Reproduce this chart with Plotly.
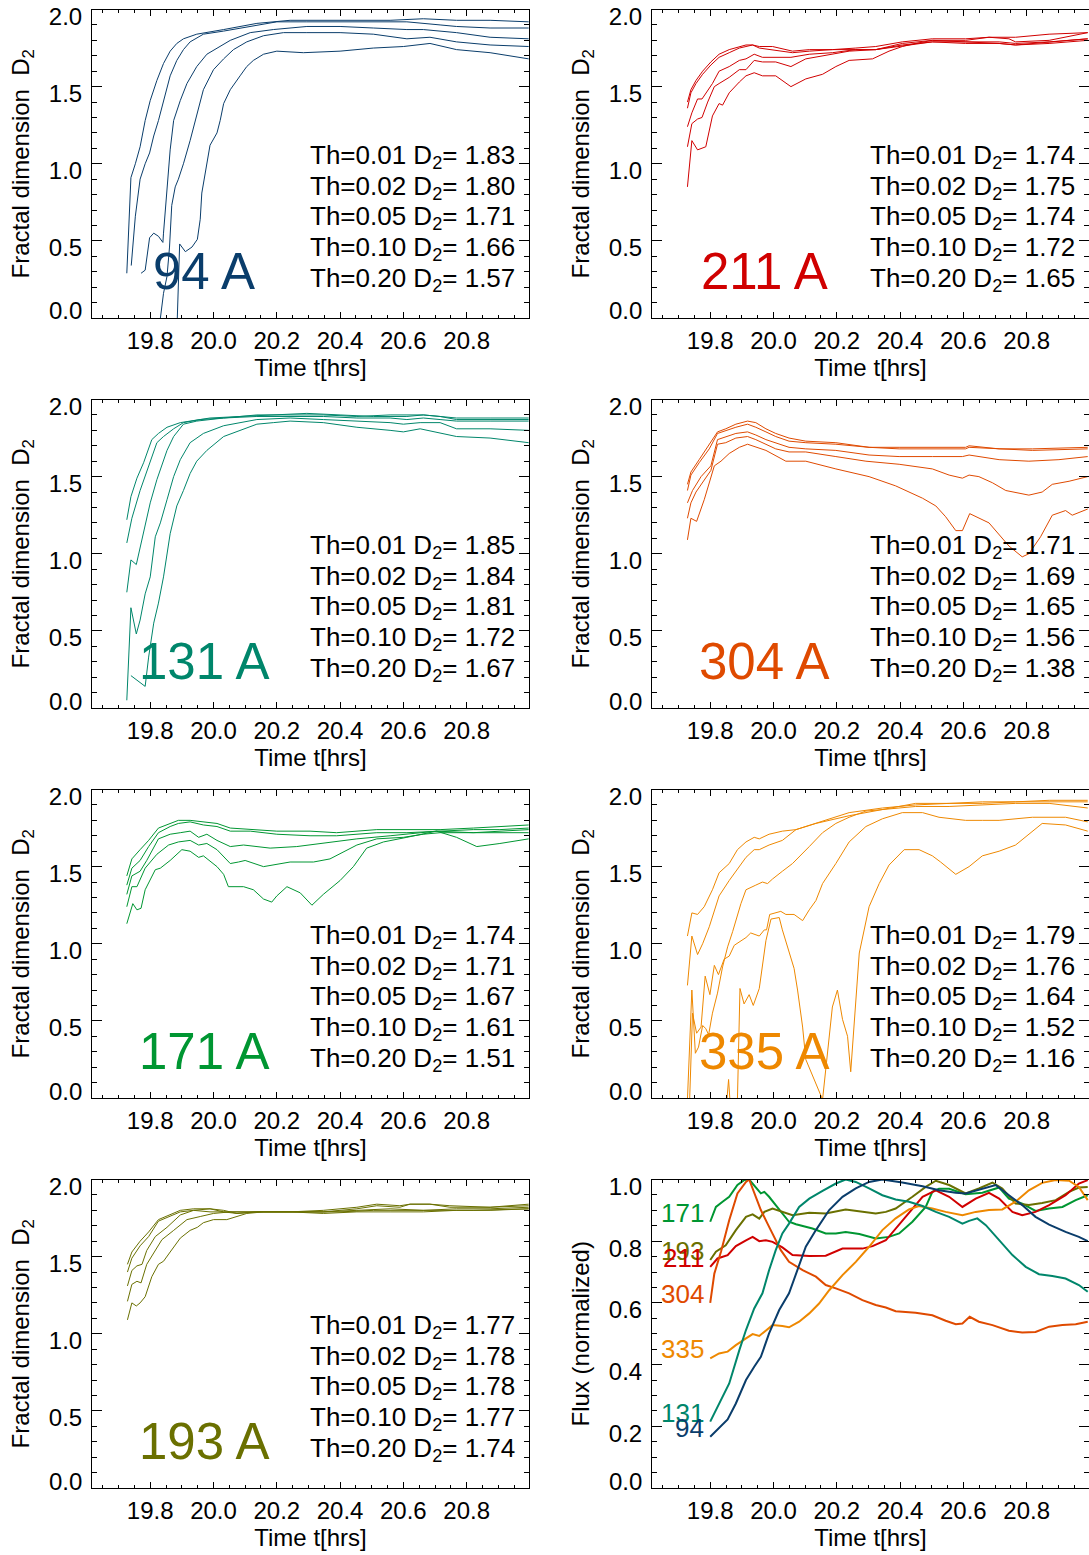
import plotly.graph_objects as go

FONT = "Liberation Sans, Arial, Helvetica, sans-serif"
W, H = 1089, 1555

THRESHOLDS = ["0.01", "0.02", "0.05", "0.10", "0.20"]

# Fitted fractal dimension D2 for each threshold, per channel
D2_FIT = {
    "94":  [1.83, 1.80, 1.71, 1.66, 1.57],
    "211": [1.74, 1.75, 1.74, 1.72, 1.65],
    "131": [1.85, 1.84, 1.81, 1.72, 1.67],
    "304": [1.71, 1.69, 1.65, 1.56, 1.38],
    "171": [1.74, 1.71, 1.67, 1.61, 1.51],
    "335": [1.79, 1.76, 1.64, 1.52, 1.16],
    "193": [1.77, 1.78, 1.78, 1.77, 1.74],
}

COLORS = {
    "94": "#0a3d6b", "211": "#d00000", "131": "#00866b", "304": "#df4a00",
    "171": "#009632", "335": "#ee8800", "193": "#6a7000",
}

# D2(t) time series, threshold -> (time [hrs], D2)
D2_94 = {
    "0.01": ([19.726, 19.739, 19.753, 19.768, 19.784, 19.800, 19.821, 19.842, 19.863, 19.884, 19.905, 19.947, 20.032, 20.137, 20.242, 20.347, 20.453, 20.558, 20.663, 20.768, 20.874, 20.996],
             [0.29, 0.91, 1.00, 1.11, 1.28, 1.41, 1.54, 1.65, 1.73, 1.78, 1.81, 1.84, 1.87, 1.91, 1.93, 1.93, 1.93, 1.93, 1.94, 1.93, 1.93, 1.92]),
    "0.02": ([19.740, 19.753, 19.768, 19.784, 19.798, 19.811, 19.826, 19.842, 19.863, 19.884, 19.905, 19.926, 19.968, 20.032, 20.116, 20.200, 20.295, 20.400, 20.505, 20.611, 20.716, 20.768, 20.874, 20.996],
             [0.34, 0.66, 0.90, 1.00, 1.07, 1.18, 1.28, 1.41, 1.57, 1.67, 1.74, 1.79, 1.84, 1.86, 1.89, 1.92, 1.92, 1.92, 1.92, 1.92, 1.90, 1.89, 1.88, 1.88]),
    "0.05": ([19.771, 19.784, 19.798, 19.811, 19.826, 19.840, 19.842, 19.853, 19.863, 19.874, 19.895, 19.916, 19.947, 19.979, 20.011, 20.053, 20.116, 20.189, 20.295, 20.400, 20.505, 20.611, 20.663, 20.768, 20.874, 20.996],
             [0.29, 0.31, 0.52, 0.55, 0.53, 0.49, 0.55, 0.81, 1.09, 1.28, 1.41, 1.52, 1.63, 1.71, 1.75, 1.80, 1.85, 1.87, 1.89, 1.89, 1.88, 1.87, 1.87, 1.85, 1.82, 1.81]),
    "0.10": ([19.826, 19.842, 19.853, 19.861, 19.868, 19.879, 19.889, 19.905, 19.926, 19.942, 19.968, 20.000, 20.032, 20.063, 20.105, 20.158, 20.221, 20.295, 20.400, 20.505, 20.611, 20.684, 20.768, 20.874, 20.996],
             [-0.10, 0.16, 0.27, 0.46, 0.73, 0.85, 0.90, 1.00, 1.15, 1.28, 1.48, 1.61, 1.68, 1.74, 1.79, 1.83, 1.85, 1.85, 1.85, 1.84, 1.81, 1.82, 1.79, 1.77, 1.76]),
    "0.20": ([19.884, 19.893, 19.911, 19.932, 19.949, 19.958, 19.963, 19.974, 19.984, 19.989, 20.011, 20.021, 20.032, 20.053, 20.084, 20.105, 20.126, 20.158, 20.200, 20.284, 20.400, 20.505, 20.600, 20.684, 20.768, 20.874, 20.996],
             [-0.10, 0.48, 0.43, 0.46, 0.51, 0.64, 0.81, 0.94, 1.07, 1.12, 1.20, 1.28, 1.39, 1.48, 1.57, 1.63, 1.67, 1.71, 1.73, 1.72, 1.73, 1.75, 1.76, 1.78, 1.74, 1.72, 1.68]),
}

D2_211 = {
    "0.01": ([19.728, 19.739, 19.755, 19.776, 19.802, 19.828, 19.860, 19.892, 19.913, 19.934, 19.955, 19.997, 20.060, 20.113, 20.186, 20.260, 20.323, 20.407, 20.502, 20.607, 20.681, 20.765, 20.871, 20.993],
             [1.40, 1.48, 1.54, 1.60, 1.66, 1.71, 1.74, 1.76, 1.77, 1.77, 1.76, 1.76, 1.73, 1.74, 1.74, 1.75, 1.76, 1.79, 1.81, 1.81, 1.82, 1.82, 1.84, 1.85]),
    "0.02": ([19.728, 19.739, 19.755, 19.776, 19.802, 19.828, 19.860, 19.892, 19.913, 19.934, 19.955, 19.997, 20.060, 20.113, 20.186, 20.260, 20.323, 20.407, 20.502, 20.607, 20.681, 20.744, 20.765, 20.871, 20.993],
             [1.36, 1.46, 1.52, 1.58, 1.64, 1.69, 1.72, 1.75, 1.76, 1.77, 1.75, 1.74, 1.72, 1.73, 1.74, 1.74, 1.74, 1.78, 1.80, 1.80, 1.82, 1.81, 1.79, 1.80, 1.85]),
    "0.05": ([19.728, 19.742, 19.760, 19.774, 19.807, 19.828, 19.860, 19.892, 19.913, 19.939, 19.965, 20.007, 20.055, 20.113, 20.186, 20.260, 20.323, 20.407, 20.502, 20.607, 20.713, 20.765, 20.871, 20.993],
             [1.24, 1.33, 1.42, 1.42, 1.52, 1.60, 1.63, 1.67, 1.68, 1.71, 1.69, 1.69, 1.69, 1.71, 1.72, 1.74, 1.74, 1.77, 1.79, 1.79, 1.79, 1.78, 1.79, 1.81]),
    "0.10": ([19.728, 19.742, 19.760, 19.774, 19.792, 19.813, 19.828, 19.860, 19.892, 19.913, 19.939, 19.965, 20.007, 20.055, 20.102, 20.155, 20.239, 20.323, 20.397, 20.502, 20.607, 20.713, 20.765, 20.871, 20.993],
             [1.11, 1.26, 1.29, 1.30, 1.40, 1.50, 1.52, 1.56, 1.61, 1.61, 1.67, 1.66, 1.66, 1.63, 1.68, 1.70, 1.73, 1.74, 1.76, 1.79, 1.78, 1.78, 1.77, 1.79, 1.81]),
    "0.20": ([19.728, 19.742, 19.760, 19.786, 19.807, 19.828, 19.839, 19.860, 19.892, 19.913, 19.939, 19.965, 20.007, 20.055, 20.102, 20.155, 20.197, 20.239, 20.313, 20.365, 20.407, 20.449, 20.502, 20.607, 20.713, 20.765, 20.871, 20.993],
             [0.85, 1.15, 1.09, 1.11, 1.31, 1.39, 1.38, 1.46, 1.53, 1.57, 1.59, 1.57, 1.57, 1.50, 1.55, 1.58, 1.63, 1.67, 1.68, 1.73, 1.76, 1.78, 1.80, 1.79, 1.78, 1.77, 1.78, 1.80]),
}

D2_131 = {
    "0.01": ([19.726, 19.739, 19.758, 19.779, 19.805, 19.826, 19.853, 19.895, 19.926, 19.989, 20.084, 20.189, 20.295, 20.400, 20.505, 20.611, 20.663, 20.716, 20.768, 20.874, 20.996],
             [1.22, 1.37, 1.49, 1.59, 1.74, 1.78, 1.82, 1.85, 1.86, 1.88, 1.89, 1.90, 1.91, 1.90, 1.89, 1.89, 1.90, 1.89, 1.88, 1.88, 1.88]),
    "0.02": ([19.726, 19.742, 19.768, 19.795, 19.821, 19.842, 19.874, 19.905, 19.958, 20.032, 20.137, 20.242, 20.347, 20.453, 20.558, 20.663, 20.716, 20.768, 20.874, 20.996],
             [1.07, 1.23, 1.41, 1.57, 1.72, 1.76, 1.81, 1.85, 1.87, 1.88, 1.90, 1.90, 1.90, 1.89, 1.90, 1.90, 1.89, 1.87, 1.87, 1.87]),
    "0.05": ([19.726, 19.739, 19.756, 19.779, 19.800, 19.821, 19.853, 19.874, 19.905, 19.947, 20.032, 20.137, 20.242, 20.347, 20.453, 20.558, 20.611, 20.663, 20.716, 20.768, 20.874, 20.996],
             [0.75, 0.96, 0.93, 1.15, 1.33, 1.48, 1.67, 1.76, 1.84, 1.86, 1.88, 1.89, 1.89, 1.89, 1.88, 1.88, 1.87, 1.88, 1.87, 1.86, 1.86, 1.86]),
    "0.10": ([19.726, 19.739, 19.756, 19.768, 19.784, 19.800, 19.816, 19.832, 19.853, 19.874, 19.895, 19.926, 19.968, 20.032, 20.137, 20.242, 20.347, 20.453, 20.558, 20.600, 20.653, 20.716, 20.768, 20.874, 20.996],
             [0.05, 0.65, 0.48, 0.57, 0.74, 0.85, 1.11, 1.20, 1.35, 1.50, 1.61, 1.72, 1.78, 1.83, 1.87, 1.88, 1.87, 1.86, 1.85, 1.84, 1.85, 1.85, 1.81, 1.81, 1.80]),
    "0.20": ([19.739, 19.784, 19.795, 19.811, 19.826, 19.842, 19.863, 19.884, 19.905, 19.926, 19.947, 19.979, 20.032, 20.084, 20.137, 20.189, 20.242, 20.347, 20.453, 20.558, 20.600, 20.653, 20.695, 20.768, 20.874, 20.996],
             [0.21, 0.14, 0.33, 0.55, 0.68, 0.85, 1.13, 1.31, 1.41, 1.52, 1.60, 1.67, 1.76, 1.80, 1.84, 1.85, 1.86, 1.85, 1.82, 1.80, 1.79, 1.81, 1.79, 1.76, 1.75, 1.72]),
}

D2_304 = {
    "0.01": ([19.728, 19.739, 19.765, 19.797, 19.823, 19.849, 19.881, 19.918, 19.944, 19.976, 20.007, 20.049, 20.102, 20.197, 20.302, 20.397, 20.502, 20.607, 20.618, 20.713, 20.818, 20.993],
             [1.45, 1.53, 1.61, 1.71, 1.79, 1.81, 1.84, 1.86, 1.85, 1.81, 1.78, 1.75, 1.73, 1.72, 1.69, 1.69, 1.69, 1.69, 1.70, 1.68, 1.68, 1.69]),
    "0.02": ([19.728, 19.739, 19.765, 19.797, 19.823, 19.849, 19.881, 19.918, 19.944, 19.976, 20.007, 20.049, 20.102, 20.197, 20.302, 20.397, 20.502, 20.607, 20.618, 20.713, 20.818, 20.993],
             [1.41, 1.51, 1.59, 1.68, 1.78, 1.80, 1.82, 1.84, 1.82, 1.79, 1.76, 1.73, 1.72, 1.71, 1.69, 1.68, 1.68, 1.68, 1.69, 1.68, 1.67, 1.68]),
    "0.05": ([19.728, 19.744, 19.771, 19.802, 19.823, 19.849, 19.881, 19.918, 19.944, 19.976, 20.007, 20.049, 20.102, 20.197, 20.302, 20.397, 20.502, 20.597, 20.618, 20.713, 20.807, 20.902, 20.993],
             [1.33, 1.41, 1.50, 1.57, 1.74, 1.76, 1.78, 1.79, 1.77, 1.74, 1.72, 1.69, 1.68, 1.67, 1.64, 1.63, 1.63, 1.63, 1.64, 1.61, 1.60, 1.61, 1.63]),
    "0.10": ([19.728, 19.739, 19.755, 19.776, 19.802, 19.823, 19.849, 19.881, 19.918, 19.944, 19.976, 20.007, 20.049, 20.102, 20.197, 20.292, 20.397, 20.502, 20.555, 20.597, 20.618, 20.649, 20.692, 20.734, 20.807, 20.849, 20.881, 20.934, 20.993],
             [1.23, 1.33, 1.40, 1.46, 1.54, 1.71, 1.72, 1.75, 1.76, 1.74, 1.71, 1.68, 1.66, 1.66, 1.63, 1.60, 1.58, 1.55, 1.51, 1.49, 1.51, 1.50, 1.46, 1.41, 1.38, 1.40, 1.45, 1.47, 1.50]),
    "0.20": ([19.728, 19.739, 19.757, 19.781, 19.813, 19.834, 19.860, 19.892, 19.918, 19.944, 19.976, 20.039, 20.102, 20.197, 20.302, 20.386, 20.471, 20.513, 20.544, 20.576, 20.597, 20.620, 20.681, 20.744, 20.786, 20.807, 20.844, 20.881, 20.923, 20.944, 20.993],
             [1.09, 1.23, 1.21, 1.35, 1.57, 1.60, 1.65, 1.69, 1.71, 1.69, 1.67, 1.60, 1.60, 1.55, 1.50, 1.44, 1.36, 1.31, 1.24, 1.15, 1.15, 1.26, 1.20, 1.05, 0.98, 1.00, 1.11, 1.25, 1.28, 1.25, 1.29]),
}

D2_171 = {
    "0.01": ([19.726, 19.742, 19.768, 19.795, 19.826, 19.863, 19.889, 19.926, 19.968, 20.011, 20.053, 20.116, 20.200, 20.305, 20.389, 20.516, 20.611, 20.716, 20.821, 20.905, 20.996],
             [1.44, 1.55, 1.61, 1.67, 1.75, 1.78, 1.80, 1.80, 1.79, 1.78, 1.75, 1.74, 1.73, 1.73, 1.72, 1.74, 1.74, 1.74, 1.75, 1.76, 1.77]),
    "0.02": ([19.726, 19.742, 19.768, 19.795, 19.826, 19.863, 19.889, 19.926, 19.968, 20.011, 20.053, 20.116, 20.200, 20.305, 20.389, 20.516, 20.611, 20.716, 20.821, 20.905, 20.996],
             [1.38, 1.49, 1.54, 1.63, 1.72, 1.76, 1.78, 1.79, 1.77, 1.76, 1.73, 1.73, 1.71, 1.70, 1.70, 1.72, 1.72, 1.73, 1.74, 1.74, 1.75]),
    "0.05": ([19.726, 19.742, 19.768, 19.789, 19.826, 19.863, 19.895, 19.926, 19.953, 19.979, 20.011, 20.053, 20.095, 20.179, 20.263, 20.347, 20.453, 20.558, 20.663, 20.705, 20.821, 20.996],
             [1.32, 1.44, 1.47, 1.54, 1.68, 1.71, 1.72, 1.73, 1.69, 1.71, 1.67, 1.63, 1.64, 1.62, 1.63, 1.65, 1.68, 1.70, 1.72, 1.73, 1.72, 1.74]),
    "0.10": ([19.726, 19.742, 19.758, 19.784, 19.821, 19.858, 19.889, 19.926, 19.953, 19.979, 20.011, 20.053, 20.079, 20.100, 20.158, 20.242, 20.316, 20.368, 20.453, 20.516, 20.600, 20.663, 20.716, 20.821, 20.996],
             [1.24, 1.37, 1.37, 1.49, 1.58, 1.64, 1.66, 1.67, 1.64, 1.65, 1.61, 1.52, 1.53, 1.54, 1.50, 1.53, 1.53, 1.55, 1.64, 1.68, 1.69, 1.71, 1.72, 1.72, 1.72]),
    "0.20": ([19.726, 19.745, 19.758, 19.771, 19.784, 19.816, 19.832, 19.863, 19.900, 19.926, 19.953, 19.968, 20.011, 20.032, 20.047, 20.074, 20.095, 20.126, 20.158, 20.184, 20.200, 20.232, 20.274, 20.311, 20.347, 20.400, 20.442, 20.484, 20.537, 20.611, 20.705, 20.768, 20.832, 20.905, 20.996],
             [1.13, 1.26, 1.22, 1.23, 1.35, 1.48, 1.49, 1.54, 1.61, 1.60, 1.56, 1.57, 1.50, 1.45, 1.37, 1.37, 1.37, 1.35, 1.29, 1.27, 1.31, 1.37, 1.33, 1.25, 1.32, 1.41, 1.50, 1.62, 1.66, 1.69, 1.73, 1.69, 1.63, 1.65, 1.68]),
}

D2_335 = {
    "0.01": ([19.728, 19.742, 19.760, 19.781, 19.807, 19.828, 19.860, 19.886, 19.913, 19.939, 19.955, 19.986, 20.028, 20.071, 20.134, 20.239, 20.344, 20.449, 20.555, 20.660, 20.765, 20.871, 20.993],
             [1.05, 1.20, 1.19, 1.24, 1.35, 1.46, 1.52, 1.61, 1.66, 1.69, 1.68, 1.71, 1.73, 1.74, 1.78, 1.83, 1.87, 1.91, 1.91, 1.92, 1.92, 1.93, 1.93]),
    "0.02": ([19.728, 19.742, 19.760, 19.776, 19.797, 19.807, 19.828, 19.860, 19.886, 19.913, 19.939, 19.955, 19.986, 20.028, 20.071, 20.134, 20.239, 20.344, 20.449, 20.555, 20.660, 20.765, 20.871, 20.993],
             [0.73, 1.05, 0.93, 1.00, 1.11, 1.18, 1.31, 1.41, 1.48, 1.56, 1.61, 1.61, 1.64, 1.67, 1.74, 1.78, 1.85, 1.88, 1.90, 1.91, 1.91, 1.92, 1.92, 1.92]),
    "0.05": ([19.728, 19.742, 19.753, 19.763, 19.776, 19.786, 19.795, 19.807, 19.823, 19.839, 19.855, 19.871, 19.897, 19.913, 19.944, 19.965, 19.981, 19.997, 20.028, 20.060, 20.113, 20.155, 20.197, 20.239, 20.292, 20.344, 20.449, 20.555, 20.660, 20.765, 20.871, 20.993],
             [-0.01, 0.70, 0.29, 0.33, 0.47, 0.45, 0.41, 0.55, 0.68, 0.85, 0.98, 1.08, 1.26, 1.35, 1.38, 1.40, 1.39, 1.42, 1.47, 1.52, 1.63, 1.72, 1.78, 1.82, 1.86, 1.87, 1.89, 1.89, 1.90, 1.91, 1.91, 1.88]),
    "0.10": ([19.734, 19.744, 19.757, 19.771, 19.784, 19.799, 19.813, 19.826, 19.844, 19.860, 19.876, 19.892, 19.913, 19.928, 19.955, 19.971, 19.978, 19.988, 20.007, 20.023, 20.039, 20.065, 20.092, 20.113, 20.134, 20.155, 20.197, 20.239, 20.292, 20.344, 20.407, 20.471, 20.523, 20.607, 20.660, 20.713, 20.818, 20.923, 20.993],
             [-0.07, 0.55, 0.42, 0.46, 0.79, 0.67, 0.86, 0.80, 0.90, 0.92, 0.99, 1.01, 1.04, 1.07, 1.05, 1.09, 1.09, 1.19, 1.20, 1.21, 1.19, 1.19, 1.15, 1.22, 1.28, 1.39, 1.52, 1.66, 1.76, 1.81, 1.85, 1.85, 1.82, 1.80, 1.80, 1.80, 1.82, 1.82, 1.79]),
    "0.20": ([19.849, 19.858, 19.865, 19.886, 19.894, 19.907, 19.923, 19.936, 19.955, 19.965, 19.976, 19.992, 20.018, 20.028, 20.044, 20.065, 20.076, 20.092, 20.102, 20.128, 20.155, 20.186, 20.202, 20.218, 20.234, 20.244, 20.255, 20.271, 20.302, 20.334, 20.365, 20.413, 20.460, 20.502, 20.528, 20.576, 20.618, 20.660, 20.713, 20.765, 20.849, 20.923, 20.993],
             [-0.10, 0.12, -0.10, -0.01, 0.71, 0.61, 0.67, 0.60, 0.71, 0.87, 1.02, 1.16, 1.17, 1.09, 0.98, 0.84, 0.70, 0.46, 0.25, 0.12, -0.01, 0.59, 0.70, 0.51, 0.40, 0.17, 0.51, 0.94, 1.24, 1.39, 1.51, 1.61, 1.61, 1.57, 1.53, 1.45, 1.50, 1.57, 1.60, 1.64, 1.78, 1.77, 1.73]),
}

D2_193 = {
    "0.01": ([19.728, 19.742, 19.768, 19.795, 19.826, 19.863, 19.895, 19.937, 19.989, 20.032, 20.074, 20.137, 20.242, 20.347, 20.453, 20.516, 20.589, 20.621, 20.684, 20.747, 20.874, 20.996],
             [1.45, 1.53, 1.60, 1.66, 1.74, 1.77, 1.80, 1.81, 1.81, 1.79, 1.78, 1.79, 1.79, 1.80, 1.82, 1.84, 1.83, 1.84, 1.84, 1.83, 1.82, 1.84]),
    "0.02": ([19.728, 19.742, 19.768, 19.795, 19.826, 19.863, 19.895, 19.937, 19.989, 20.032, 20.074, 20.137, 20.242, 20.347, 20.453, 20.516, 20.589, 20.621, 20.684, 20.747, 20.874, 20.996],
             [1.40, 1.49, 1.57, 1.63, 1.73, 1.76, 1.79, 1.80, 1.81, 1.80, 1.78, 1.79, 1.79, 1.79, 1.81, 1.83, 1.82, 1.84, 1.84, 1.82, 1.82, 1.83]),
    "0.05": ([19.728, 19.742, 19.758, 19.774, 19.789, 19.816, 19.853, 19.895, 19.937, 19.989, 20.032, 20.074, 20.137, 20.242, 20.347, 20.453, 20.558, 20.663, 20.768, 20.874, 20.996],
             [1.31, 1.41, 1.44, 1.45, 1.54, 1.63, 1.69, 1.77, 1.80, 1.79, 1.79, 1.79, 1.79, 1.79, 1.79, 1.80, 1.81, 1.80, 1.81, 1.81, 1.82]),
    "0.10": ([19.728, 19.742, 19.758, 19.771, 19.789, 19.816, 19.837, 19.874, 19.916, 19.958, 20.000, 20.053, 20.105, 20.189, 20.295, 20.400, 20.505, 20.611, 20.716, 20.821, 20.996],
             [1.21, 1.32, 1.34, 1.33, 1.45, 1.54, 1.61, 1.67, 1.74, 1.76, 1.78, 1.79, 1.79, 1.79, 1.79, 1.79, 1.80, 1.80, 1.80, 1.80, 1.81]),
    "0.20": ([19.728, 19.742, 19.756, 19.768, 19.784, 19.805, 19.826, 19.842, 19.863, 19.895, 19.926, 19.949, 19.968, 20.000, 20.042, 20.074, 20.105, 20.158, 20.242, 20.347, 20.453, 20.558, 20.663, 20.768, 20.874, 20.996],
             [1.09, 1.20, 1.18, 1.20, 1.24, 1.37, 1.45, 1.47, 1.53, 1.62, 1.67, 1.69, 1.72, 1.74, 1.74, 1.76, 1.78, 1.79, 1.79, 1.78, 1.79, 1.79, 1.79, 1.80, 1.80, 1.81]),
}

# Normalized light curves, channel -> (time [hrs], flux)
FLUX = {
    "171": ([19.800, 19.818, 19.839, 19.860, 19.886, 19.907, 19.923, 19.944, 19.960, 19.971, 19.986, 20.007, 20.028, 20.049, 20.071, 20.092, 20.123, 20.165, 20.197, 20.228, 20.271, 20.323, 20.365, 20.397, 20.439, 20.481, 20.502, 20.523, 20.555, 20.607, 20.660, 20.713, 20.744, 20.786, 20.828, 20.871, 20.913, 20.955, 20.993],
            [0.863, 0.911, 0.928, 0.944, 0.982, 0.998, 1.000, 0.976, 0.955, 0.960, 0.944, 0.917, 0.890, 0.863, 0.855, 0.849, 0.841, 0.825, 0.825, 0.830, 0.823, 0.809, 0.814, 0.825, 0.863, 0.911, 0.960, 0.970, 0.970, 0.952, 0.957, 0.974, 0.938, 0.922, 0.898, 0.906, 0.911, 0.933, 0.949]),
    "193": ([19.800, 19.818, 19.849, 19.881, 19.913, 19.934, 19.955, 19.971, 19.997, 20.028, 20.060, 20.113, 20.165, 20.228, 20.281, 20.323, 20.355, 20.386, 20.439, 20.481, 20.513, 20.555, 20.607, 20.649, 20.692, 20.723, 20.765, 20.807, 20.849, 20.892, 20.934, 20.965, 20.993],
            [0.739, 0.766, 0.787, 0.836, 0.879, 0.887, 0.873, 0.895, 0.906, 0.895, 0.884, 0.892, 0.890, 0.903, 0.895, 0.890, 0.895, 0.906, 0.944, 0.976, 0.996, 0.982, 0.955, 0.971, 0.990, 0.971, 0.922, 0.917, 0.924, 0.933, 0.960, 0.974, 0.976]),
    "211": ([19.800, 19.823, 19.855, 19.881, 19.913, 19.934, 19.955, 19.976, 19.997, 20.028, 20.060, 20.113, 20.165, 20.218, 20.281, 20.313, 20.355, 20.386, 20.428, 20.471, 20.513, 20.555, 20.597, 20.639, 20.681, 20.713, 20.755, 20.786, 20.828, 20.871, 20.923, 20.965, 20.993],
            [0.717, 0.744, 0.755, 0.784, 0.803, 0.814, 0.800, 0.803, 0.798, 0.780, 0.755, 0.752, 0.753, 0.776, 0.776, 0.784, 0.803, 0.841, 0.890, 0.944, 0.965, 0.944, 0.911, 0.938, 0.957, 0.938, 0.895, 0.884, 0.895, 0.917, 0.949, 0.987, 0.998]),
    "304": ([19.800, 19.813, 19.834, 19.860, 19.886, 19.913, 19.923, 19.939, 19.960, 19.981, 20.002, 20.023, 20.049, 20.092, 20.134, 20.165, 20.197, 20.239, 20.281, 20.323, 20.355, 20.386, 20.449, 20.502, 20.544, 20.576, 20.597, 20.620, 20.649, 20.692, 20.744, 20.786, 20.828, 20.871, 20.913, 20.955, 20.993],
            [0.600, 0.695, 0.766, 0.868, 0.955, 0.992, 1.000, 0.955, 0.901, 0.857, 0.814, 0.771, 0.733, 0.706, 0.685, 0.658, 0.647, 0.631, 0.609, 0.593, 0.585, 0.573, 0.568, 0.560, 0.542, 0.531, 0.533, 0.555, 0.539, 0.528, 0.510, 0.504, 0.506, 0.523, 0.528, 0.531, 0.539]),
    "335": ([19.800, 19.828, 19.855, 19.881, 19.913, 19.934, 19.955, 19.976, 19.997, 20.028, 20.049, 20.081, 20.113, 20.144, 20.176, 20.218, 20.260, 20.302, 20.344, 20.386, 20.428, 20.460, 20.502, 20.544, 20.597, 20.639, 20.681, 20.723, 20.765, 20.807, 20.849, 20.892, 20.934, 20.965, 20.993],
            [0.420, 0.436, 0.442, 0.463, 0.485, 0.499, 0.493, 0.512, 0.528, 0.525, 0.521, 0.539, 0.566, 0.598, 0.641, 0.690, 0.733, 0.782, 0.836, 0.874, 0.903, 0.914, 0.906, 0.895, 0.884, 0.895, 0.901, 0.903, 0.928, 0.965, 0.989, 0.998, 0.996, 0.976, 0.933]),
    "131": ([19.800, 19.828, 19.860, 19.892, 19.913, 19.939, 19.965, 19.986, 20.007, 20.028, 20.049, 20.081, 20.113, 20.155, 20.197, 20.228, 20.260, 20.302, 20.344, 20.386, 20.428, 20.471, 20.513, 20.555, 20.597, 20.618, 20.644, 20.671, 20.713, 20.755, 20.797, 20.839, 20.881, 20.923, 20.965, 20.993],
            [0.215, 0.274, 0.339, 0.447, 0.512, 0.582, 0.631, 0.706, 0.771, 0.825, 0.857, 0.911, 0.938, 0.963, 0.987, 1.000, 0.992, 0.971, 0.949, 0.935, 0.928, 0.914, 0.895, 0.879, 0.857, 0.866, 0.874, 0.852, 0.803, 0.755, 0.717, 0.693, 0.687, 0.679, 0.658, 0.636]),
    "94":  ([19.800, 19.828, 19.855, 19.881, 19.913, 19.939, 19.960, 19.986, 20.018, 20.049, 20.076, 20.102, 20.134, 20.176, 20.218, 20.260, 20.302, 20.344, 20.407, 20.471, 20.523, 20.576, 20.607, 20.649, 20.702, 20.744, 20.786, 20.828, 20.871, 20.923, 20.965, 20.993],
            [0.166, 0.193, 0.222, 0.274, 0.350, 0.393, 0.425, 0.501, 0.577, 0.631, 0.706, 0.782, 0.836, 0.901, 0.944, 0.971, 0.992, 1.000, 0.990, 0.978, 0.965, 0.957, 0.955, 0.968, 0.982, 0.949, 0.917, 0.879, 0.854, 0.830, 0.814, 0.800]),
}

# Panel arrangement: (channel, series, row, column)
PANELS = [
    ("94", D2_94, 0, 0), ("211", D2_211, 0, 1),
    ("131", D2_131, 1, 0), ("304", D2_304, 1, 1),
    ("171", D2_171, 2, 0), ("335", D2_335, 2, 1),
    ("193", D2_193, 3, 0),
]
FLUX_CELL = (3, 1)

T_RANGE = [19.616, 20.997]
D2_TICKS = [0.0, 0.5, 1.0, 1.5, 2.0]
FLUX_TICKS = [0.0, 0.2, 0.4, 0.6, 0.8, 1.0]


def xdomain(col):
    return [92 / W, 529 / W] if col == 0 else [652 / W, 1.0]


def ydomain(row):
    top = 9.5 + 390 * row
    bot = 318 + 390 * row
    return [1 - bot / H, 1 - top / H]


fig = go.Figure()
annotations = []
tickfont = dict(family=FONT, size=24, color="black")


def set_axes(idx, row, col, yrange, yticks, yminor, ytitle):
    sfx = "" if idx == 1 else str(idx)
    # the lowest label sits just above the bottom edge, so it is written separately
    ytext = [""] + [f"{v:.1f}" for v in yticks[1:]]
    fig.update_layout(**{
        "xaxis" + sfx: dict(
            domain=xdomain(col), anchor="y" + sfx, range=T_RANGE, automargin=False,
            tick0=19.8, dtick=0.2, tickformat=".1f",
            ticks="inside", ticklen=6, tickwidth=1, tickcolor="black",
            minor=dict(dtick=0.05, ticks="inside", ticklen=3, tickcolor="black", showgrid=False),
            showline=True, linecolor="black", linewidth=1, mirror="ticks",
            showgrid=False, zeroline=False, tickfont=tickfont,
            ticklabelstandoff=1,
            title=dict(text="Time t[hrs]", font=tickfont, standoff=2),
        ),
        "yaxis" + sfx: dict(
            domain=ydomain(row), anchor="x" + sfx, range=yrange, automargin=False,
            tickmode="array", tickvals=yticks, ticktext=ytext,
            ticks="inside", ticklen=10, tickwidth=1, tickcolor="black",
            minor=dict(tickmode="linear", tick0=0, dtick=yminor, ticks="inside", ticklen=5,
                       tickcolor="black", showgrid=False),
            showline=True, linecolor="black", linewidth=1, mirror="ticks",
            showgrid=False, zeroline=False, tickfont=tickfont,
            ticklabelshift=7, ticklabelstandoff=4,
            title=dict(text=ytitle, font=tickfont, standoff=12),
        ),
    })
    xa, ya = "x" + sfx, "y" + sfx
    annotations.append(dict(x=0, xref=xa + " domain", y=yticks[0], yref=ya,
                            text=f"{yticks[0]:.1f}", showarrow=False,
                            xanchor="right", yanchor="middle", xshift=-8, yshift=7,
                            font=tickfont))
    return xa, ya


for i, (chan, series, row, col) in enumerate(PANELS, start=1):
    xa, ya = set_axes(i, row, col, [0, 2], D2_TICKS, 0.1, "Fractal dimension\u00a0 D<sub>2</sub>")
    color = COLORS[chan]
    for th in THRESHOLDS:
        t, d = series[th]
        fig.add_trace(go.Scatter(x=t, y=d, mode="lines", xaxis=xa, yaxis=ya,
                                 line=dict(color=color, width=1), showlegend=False,
                                 name=f"{chan} A Th={th}"))
    annotations.append(dict(x=19.97, y=0.19, xref=xa, yref=ya, text=f"{chan} A",
                            showarrow=False, xanchor="center", yanchor="bottom", yshift=-13,
                            font=dict(family=FONT, size=51, color=color)))
    for k, (th, val) in enumerate(zip(THRESHOLDS, D2_FIT[chan])):
        annotations.append(dict(x=20.3, y=1.0 - 0.2 * k, xref=xa, yref=ya,
                                text=f"Th={th} D<sub>2</sub>= {val:.2f}",
                                showarrow=False, xanchor="left", yanchor="bottom", yshift=-11,
                                font=dict(family=FONT, size=26, color="black")))

# Light-curve panel
fi = len(PANELS) + 1
xa, ya = set_axes(fi, FLUX_CELL[0], FLUX_CELL[1], [0, 1.0], FLUX_TICKS, 0.05, "Flux (normalized)")
for chan, (t, f) in FLUX.items():
    fig.add_trace(go.Scatter(x=t, y=f, mode="lines", xaxis=xa, yaxis=ya,
                             line=dict(color=COLORS[chan], width=2), showlegend=False,
                             name=f"{chan} A flux"))
    annotations.append(dict(x=19.787, y=f[0], xref=xa, yref=ya, text=chan,
                            showarrow=False, xanchor="right", yanchor="bottom", yshift=-8,
                            font=dict(family=FONT, size=26, color=COLORS[chan])))

fig.update_layout(
    width=W, height=H,
    margin=dict(l=0, r=0, t=0, b=0, autoexpand=False),
    paper_bgcolor="white", plot_bgcolor="white",
    font=dict(family=FONT, size=24, color="black"),
    annotations=annotations,
    showlegend=False,
)

fig.write_html("out.html")
